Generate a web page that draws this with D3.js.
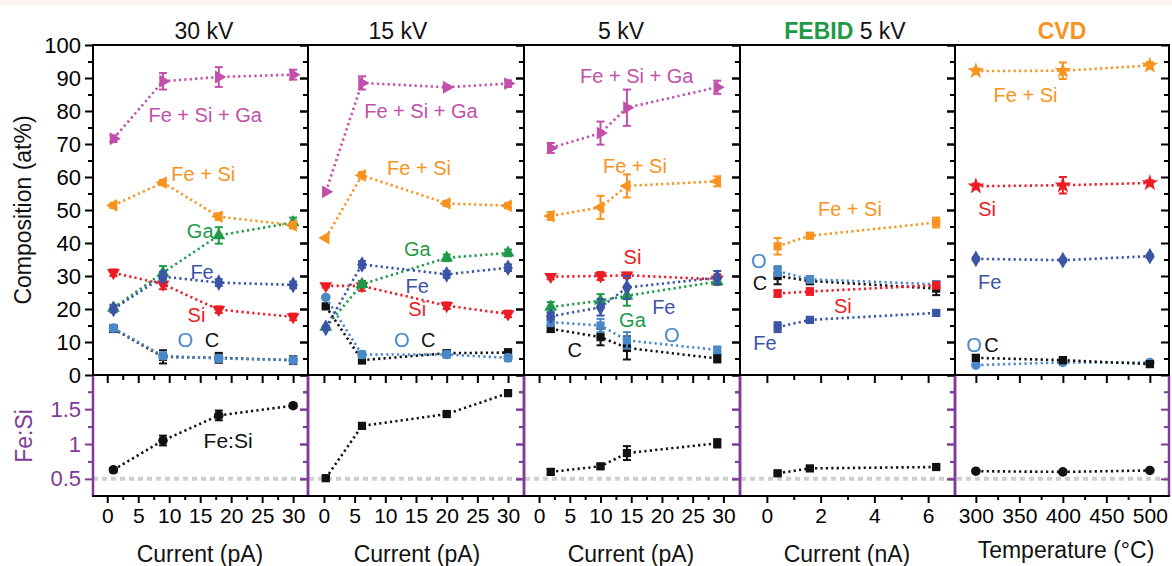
<!DOCTYPE html>
<html>
<head>
<meta charset="utf-8">
<script src="https://cdn.jsdelivr.net/npm/d3@7"></script>
<style>
body { margin: 0; background: #fff; }
svg { display: block; font-family: "Liberation Sans", Arial, sans-serif; }
</style>
</head>
<body>
<svg id="chart" width="1172" height="566"></svg>
<script>
// ---- data ----
// 30 kV
const x30 = [1, 9, 18, 30];
const feSiGa30 = [71.6, 89, 90.3, 91],   feSiGa30Err = [1, 2.5, 3, 1.5];
const feSi30 = [51.4, 58.3, 48, 45.4],   feSi30Err = [0.8, 0.8, 1, 1];
const ga30 = [20.3, 31, 42.3, 46.2],     ga30Err = [1, 2, 2.5, 1.5];
const fe30 = [20, 29.8, 28, 27.3],       fe30Err = [1, 1.5, 1, 1];
const si30 = [31, 27.5, 19.8, 17.6],     si30Err = [1, 1.5, 1, 1];
const o30 = [14.2, 5.8, 5, 4.5],         o30Err = [1, 1, 1, 1];
const c30 = [14, 5.5, 5.2, 4.5],         c30Err = [1, 2, 1.5, 1.2];
const ratio30 = [0.63, 1.05, 1.41, 1.55], ratio30Err = [0.03, 0.07, 0.07, 0.03];

// 15 kV
const x15 = [0.3, 6.2, 20, 30];
const feSiGa15 = [55.5, 88.5, 87.2, 88.3], feSiGa15Err = [0, 2, 0.5, 1];
const feSi15 = [41.5, 60.5, 52, 51.3],     feSi15Err = [0, 1, 0.8, 0.8];
const ga15 = [14.5, 27.5, 35.5, 37],       ga15Err = [0, 1, 1, 1];
const fe15 = [14.3, 33.5, 30.5, 32.5],     fe15Err = [0.5, 1, 1, 1];
const si15 = [27, 27, 21, 18.5],           si15Err = [0.5, 1.5, 1, 1];
const o15 = [23.5, 6.2, 6.2, 5.2],         o15Err = [0.5, 1, 1, 1];
const c15 = [20.8, 4.5, 6.6, 6.8],         c15Err = [0.5, 1, 0.8, 1];
const ratio15 = [0.51, 1.26, 1.43, 1.73],  ratio15Err = [0.02, 0.04, 0.02, 0.02];

// 5 kV
const x5 = [1.9, 10, 14.3, 29];
const feSiGa5 = [68.8, 73.3, 81, 87.2],  feSiGa5Err = [1.5, 3.5, 5.5, 2];
const feSi5 = [48.2, 50.8, 57.3, 58.7],  feSi5Err = [1.2, 3.5, 3.5, 1.5];
const ga5 = [20.6, 22.5, 24, 28.3],      ga5Err = [1.5, 2, 3, 1];
const fe5 = [17.8, 20.5, 26.5, 29.5],    fe5Err = [1, 2.5, 3.5, 2];
const si5 = [29.8, 30, 30.2, 29],        si5Err = [0.8, 1.2, 0.8, 1.5];
const o5 = [16, 15, 10.5, 7.6],          o5Err = [1.2, 2, 2.5, 1];
const c5 = [14, 11.5, 8.2, 5],           c5Err = [1, 2.5, 3.5, 1.2];
const ratio5 = [0.6, 0.68, 0.87, 1.01],  ratio5Err = [0.04, 0.03, 0.1, 0.06];

// FEBID 5 kV (current in nA)
const xFebid = [0.4, 1.6, 6.3];
const feSiFebid = [39, 42.2, 46.2],   feSiFebidErr = [2.5, 0.5, 1.5];
const oFebid = [31.5, 29, 27.5],      oFebidErr = [1.5, 1, 1];
const cFebid = [30, 28.5, 26.2],      cFebidErr = [2.5, 1, 2];
const siFebid = [24.7, 25.3, 27.2],   siFebidErr = [1, 1, 1];
const feFebid = [14.5, 16.7, 18.8],   feFebidErr = [1.5, 0.7, 0.8];
const ratioFebid = [0.58, 0.65, 0.67], ratioFebidErr = [0.02, 0.02, 0.02];

// CVD (temperature in °C)
const xCvd = [300, 400, 500];
const feSiCvd = [92.1, 92.2, 93.8],  feSiCvdErr = [0.8, 2.5, 1];
const siCvd = [57.2, 57.5, 58.2],    siCvdErr = [0.8, 2.5, 0.8];
const feCvd = [35.2, 34.8, 36],      feCvdErr = [0.5, 0.5, 0.5];
const cCvd = [5.2, 4.5, 3.3],        cCvdErr = [0.8, 0.5, 0.5];
const oCvd = [3, 3.8, 3.8],          oCvdErr = [0.5, 0.5, 0.5];
const ratioCvd = [0.61, 0.6, 0.62],  ratioCvdErr = [0.02, 0.02, 0.02];

// tick labels
const compTicks = [0, 10, 20, 30, 40, 50, 60, 70, 80, 90, 100];
const ratioTicks = [0.5, 1, 1.5];
const pATicks = [0, 5, 10, 15, 20, 25, 30];
const nATicks = [0, 2, 4, 6];
const tempTicks = [300, 350, 400, 450, 500];

// ---- look ----
const colors = {FeSiGa: '#c24fa9', FeSi: '#f7931e', Ga: '#1f9a48', Fe: '#3b54a6',
                Si: '#ed1c24', O: '#4a88c8', C: '#111111'};
const purple = '#7d3a96';

const svg = d3.select('svg#chart');
const edges = [93, 308, 524, 740, 955, 1169];
const yTopPx = 45, yMidPx = 375, yBotPx = 496;

const yComp = d3.scaleLinear().domain([0, 100]).range([yMidPx, yTopPx]);
const yRatio = d3.scaleLinear().domain([0.254, 1.99]).range([yBotPx, yMidPx]);

const S = (key, shape, v, e) => ({key, shape, v, e});
const panels = [
    {title: '30 kV', titleX: 204, xTitle: 'Current (pA)', xTitleX: 200,
     domain: [-2.3, 32.4], major: pATicks, minor: d3.range(2.5, 30, 5), x: x30,
     series: [S('C', 'square', c30, c30Err), S('O', 'circle', o30, o30Err),
              S('Si', 'down', si30, si30Err), S('Ga', 'up', ga30, ga30Err),
              S('Fe', 'diamond', fe30, fe30Err), S('FeSi', 'left', feSi30, feSi30Err),
              S('FeSiGa', 'right', feSiGa30, feSiGa30Err)],
     ratio: S('C', 'circle', ratio30, ratio30Err),
     notes: [['Fe + Si + Ga', 'FeSiGa', 15.8, 78.8], ['Fe + Si', 'FeSi', 15.5, 60.9],
             ['Ga', 'Ga', 15, 43.6], ['Fe', 'Fe', 15.3, 31.2], ['Si', 'Si', 14.4, 18.2],
             ['O', 'O', 12.6, 10.6], ['C', 'C', 16.9, 10.6]],
     ratioNote: [19.5, 1.05]},
    {title: '15 kV', titleX: 398, xTitle: 'Current (pA)', xTitleX: 417,
     domain: [-2.6, 32.6], major: pATicks, minor: d3.range(2.5, 30, 5), x: x15,
     series: [S('C', 'square', c15, c15Err), S('O', 'circle', o15, o15Err),
              S('Si', 'down', si15, si15Err), S('Ga', 'up', ga15, ga15Err),
              S('Fe', 'diamond', fe15, fe15Err), S('FeSi', 'left', feSi15, feSi15Err),
              S('FeSiGa', 'right', feSiGa15, feSiGa15Err)],
     ratio: S('C', 'square', ratio15, ratio15Err),
     notes: [['Fe + Si + Ga', 'FeSiGa', 15.8, 80], ['Fe + Si', 'FeSi', 15.5, 62.7],
             ['Ga', 'Ga', 15.2, 38.2], ['Fe', 'Fe', 15.2, 27], ['Si', 'Si', 15.2, 20],
             ['O', 'O', 12.7, 10.6], ['C', 'C', 17, 10.6]]},
    {title: '5 kV', titleX: 621, xTitle: 'Current (pA)', xTitleX: 631,
     domain: [-2.45, 32.7], major: pATicks, minor: d3.range(2.5, 30, 5), x: x5,
     series: [S('C', 'square', c5, c5Err), S('O', 'square', o5, o5Err),
              S('Si', 'down', si5, si5Err), S('Ga', 'up', ga5, ga5Err),
              S('Fe', 'diamond', fe5, fe5Err), S('FeSi', 'left', feSi5, feSi5Err),
              S('FeSiGa', 'right', feSiGa5, feSiGa5Err)],
     ratio: S('C', 'square', ratio5, ratio5Err),
     notes: [['Fe + Si + Ga', 'FeSiGa', 15.9, 90.6], ['Fe + Si', 'FeSi', 15.6, 63.3],
             ['Si', 'Si', 15.2, 35.8], ['Fe', 'Fe', 20.3, 20.6], ['Ga', 'Ga', 15.2, 16.7],
             ['O', 'O', 21.6, 12.1], ['C', 'C', 5.8, 7.6]]},
    {title: null, titleX: 845, xTitle: 'Current (nA)', xTitleX: 847,
     domain: [-1, 7], major: nATicks, minor: [1, 3, 5], x: xFebid,
     series: [S('C', 'square', cFebid, cFebidErr), S('O', 'square', oFebid, oFebidErr),
              S('Si', 'square', siFebid, siFebidErr), S('Fe', 'square', feFebid, feFebidErr),
              S('FeSi', 'square', feSiFebid, feSiFebidErr)],
     ratio: S('C', 'square', ratioFebid, ratioFebidErr),
     notes: [['Fe + Si', 'FeSi', 3.09, 50.3], ['O', 'O', -0.3, 34.5], ['C', 'C', -0.26, 27.9],
             ['Si', 'Si', 2.83, 20.9], ['Fe', 'Fe', -0.07, 9.7]]},
    {title: 'CVD', titleX: 1062, xTitle: 'Temperature (°C)', xTitleX: 1066,
     domain: [276, 522], major: tempTicks, minor: [325, 375, 425, 475], x: xCvd,
     series: [S('O', 'circle', oCvd, oCvdErr), S('C', 'square', cCvd, cCvdErr),
              S('Fe', 'diamond', feCvd, feCvdErr), S('Si', 'star', siCvd, siCvdErr),
              S('FeSi', 'star', feSiCvd, feSiCvdErr)],
     ratio: S('C', 'circle', ratioCvd, ratioCvdErr),
     notes: [['Fe + Si', 'FeSi', 357, 84.8], ['Si', 'Si', 313, 50.3], ['Fe', 'Fe', 316, 28.2],
             ['O', 'O', 298, 9.1], ['C', 'C', 318, 9.1]]}
];

const shapes = {
    up: [d3.symbolTriangle, 0, 72], down: [d3.symbolTriangle, 180, 72],
    left: [d3.symbolTriangle, -90, 72], right: [d3.symbolTriangle, 90, 72],
    diamond: [d3.symbolDiamond, 0, 80], square: [d3.symbolSquare, 0, 68],
    circle: [d3.symbolCircle, 0, 72], star: [d3.symbolStar, 0, 90]
};

// faint band at the very top of the original image
svg.append('rect').attr('width', 1172).attr('height', 5).attr('fill', '#fbf4ef');

// reference line Fe:Si = 0.5
svg.append('line')
    .attr('x1', edges[0]).attr('x2', edges[5])
    .attr('y1', yRatio(0.5)).attr('y2', yRatio(0.5))
    .attr('stroke', '#cfcfcf').attr('stroke-width', 4)
    .attr('stroke-dasharray', '5,4');

const styleAxis = (sel, color, size) => {
    sel.select('.domain').remove();
    sel.attr('color', color).attr('font-size', size).attr('font-family', null);
    sel.selectAll('.tick line').attr('stroke-width', 2);
};

const drawSeries = (g, xs, ys, xv, s, color) => {
    const pts = xv.map((d, i) => [xs(d), ys(s.v[i]), s.e[i]]);
    g.append('path')
        .attr('d', d3.line()(pts.map(p => [p[0], p[1]])))
        .attr('fill', 'none').attr('stroke', color)
        .attr('stroke-width', 2.6).attr('stroke-dasharray', '2.2,3.2');
    // error bars
    xv.forEach((d, i) => {
        if (!s.e[i]) return;
        const x = xs(d), y1 = ys(s.v[i] - s.e[i]), y2 = ys(s.v[i] + s.e[i]);
        const eb = g.append('g').attr('stroke', color).attr('stroke-width', 2);
        eb.append('line').attr('x1', x).attr('x2', x).attr('y1', y1).attr('y2', y2);
        eb.append('line').attr('x1', x - 4).attr('x2', x + 4).attr('y1', y1).attr('y2', y1);
        eb.append('line').attr('x1', x - 4).attr('x2', x + 4).attr('y1', y2).attr('y2', y2);
    });
    const [type, rot, size] = shapes[s.shape];
    g.selectAll(null).data(pts).enter().append('path')
        .attr('d', d3.symbol().type(type).size(size))
        .attr('transform', p => `translate(${p[0]},${p[1]}) rotate(${rot})`)
        .attr('fill', color);
};

panels.forEach((p, i) => {
    const x0 = edges[i], x1 = edges[i + 1];
    const xs = d3.scaleLinear().domain(p.domain).range([x0, x1]);
    const g = svg.append('g');

    // composition axes (left outward, right inward)
    g.append('g').attr('transform', `translate(${x0},0)`)
        .call(d3.axisLeft(yComp).tickValues(compTicks).tickSize(8).tickPadding(4)
            .tickFormat(i === 0 ? d3.format('d') : ''))
        .call(s => styleAxis(s, '#000', 22));
    g.append('g').attr('transform', `translate(${x0},0)`)
        .call(d3.axisLeft(yComp).tickValues(d3.range(5, 100, 10)).tickSize(5).tickFormat(''))
        .call(s => styleAxis(s, '#000', 22));
    g.append('g').attr('transform', `translate(${x1},0)`)
        .call(d3.axisLeft(yComp).tickValues(compTicks).tickSize(8).tickFormat(''))
        .call(s => styleAxis(s, '#000', 22));
    g.append('g').attr('transform', `translate(${x1},0)`)
        .call(d3.axisLeft(yComp).tickValues(d3.range(5, 100, 10)).tickSize(5).tickFormat(''))
        .call(s => styleAxis(s, '#000', 22));

    // ratio axes (purple)
    g.append('g').attr('transform', `translate(${x0},0)`)
        .call(d3.axisLeft(yRatio).tickValues(ratioTicks).tickSize(8).tickPadding(4)
            .tickFormat(i === 0 ? (d => String(d)) : ''))
        .call(s => styleAxis(s, purple, 22));
    g.append('g').attr('transform', `translate(${x0},0)`)
        .call(d3.axisLeft(yRatio).tickValues([0.75, 1.25, 1.75]).tickSize(5).tickFormat(''))
        .call(s => styleAxis(s, purple, 22));
    g.append('g').attr('transform', `translate(${x1},0)`)
        .call(d3.axisLeft(yRatio).tickValues(ratioTicks).tickSize(8).tickFormat(''))
        .call(s => styleAxis(s, purple, 22));
    g.append('g').attr('transform', `translate(${x1},0)`)
        .call(d3.axisLeft(yRatio).tickValues([0.75, 1.25, 1.75]).tickSize(5).tickFormat(''))
        .call(s => styleAxis(s, purple, 22));

    // x axes: top of ratio panel (inward) and bottom (outward, labelled)
    g.append('g').attr('transform', `translate(0,${yMidPx})`)
        .call(d3.axisBottom(xs).tickValues(p.major).tickSize(8).tickFormat(''))
        .call(s => styleAxis(s, '#000', 21));
    g.append('g').attr('transform', `translate(0,${yMidPx})`)
        .call(d3.axisBottom(xs).tickValues(p.minor).tickSize(5).tickFormat(''))
        .call(s => styleAxis(s, '#000', 21));
    g.append('g').attr('transform', `translate(0,${yBotPx})`)
        .call(d3.axisBottom(xs).tickValues(p.major).tickSize(7).tickPadding(5).tickFormat(d3.format('d')))
        .call(s => styleAxis(s, '#000', 21));
    g.append('g').attr('transform', `translate(0,${yBotPx})`)
        .call(d3.axisBottom(xs).tickValues(p.minor).tickSize(4).tickFormat(''))
        .call(s => styleAxis(s, '#000', 21));

    // series
    p.series.forEach(s => drawSeries(g, xs, yComp, p.x, s, colors[s.key]));
    drawSeries(g, xs, yRatio, p.x, p.ratio, '#111');

    // annotations
    p.notes.forEach(([t, k, xv, yv]) => {
        g.append('text').attr('x', xs(xv)).attr('y', yComp(yv))
            .attr('text-anchor', 'middle').attr('dominant-baseline', 'central')
            .attr('font-size', 20).attr('fill', colors[k]).text(t);
    });
    if (p.ratioNote) {
        g.append('text').attr('x', xs(p.ratioNote[0])).attr('y', yRatio(p.ratioNote[1]))
            .attr('text-anchor', 'middle').attr('dominant-baseline', 'central')
            .attr('font-size', 21).attr('fill', '#111').text('Fe:Si');
    }

    // frame
    g.append('line').attr('x1', x0).attr('x2', x0).attr('y1', yTopPx).attr('y2', yMidPx)
        .attr('stroke', '#000').attr('stroke-width', 2);
    g.append('line').attr('x1', x1).attr('x2', x1).attr('y1', yTopPx).attr('y2', yMidPx)
        .attr('stroke', '#000').attr('stroke-width', 2);
    g.append('line').attr('x1', x0).attr('x2', x0).attr('y1', yMidPx).attr('y2', yBotPx)
        .attr('stroke', purple).attr('stroke-width', 2.5);
    g.append('line').attr('x1', x1).attr('x2', x1).attr('y1', yMidPx).attr('y2', yBotPx)
        .attr('stroke', purple).attr('stroke-width', 2.5);

    // titles
    const title = svg.append('text').attr('x', p.titleX).attr('y', 39)
        .attr('text-anchor', 'middle').attr('font-size', 23).attr('fill', '#111');
    if (i === 3) {
        title.append('tspan').attr('font-weight', 'bold').attr('fill', colors.Ga).text('FEBID');
        title.append('tspan').text(' 5 kV');
    } else if (i === 4) {
        title.attr('font-weight', 'bold').attr('fill', colors.FeSi).text(p.title);
    } else {
        title.text(p.title);
    }
    svg.append('text').attr('x', p.xTitleX).attr('y', i === 4 ? 558 : 562)
        .attr('text-anchor', 'middle').attr('font-size', 23).attr('fill', '#111')
        .text(p.xTitle);
});

// horizontal frame lines
[yTopPx, yMidPx, yBotPx].forEach(y => {
    svg.append('line').attr('x1', edges[0] - 1).attr('x2', edges[5] + 1)
        .attr('y1', y).attr('y2', y).attr('stroke', '#000').attr('stroke-width', 2);
});

// y titles
svg.append('text').attr('transform', `translate(31,210) rotate(-90)`)
    .attr('text-anchor', 'middle').attr('font-size', 23).attr('fill', '#111')
    .text('Composition (at%)');
svg.append('text').attr('transform', `translate(32,436) rotate(-90)`)
    .attr('text-anchor', 'middle').attr('font-size', 23).attr('fill', purple)
    .text('Fe:Si');
</script>
</body>
</html>
